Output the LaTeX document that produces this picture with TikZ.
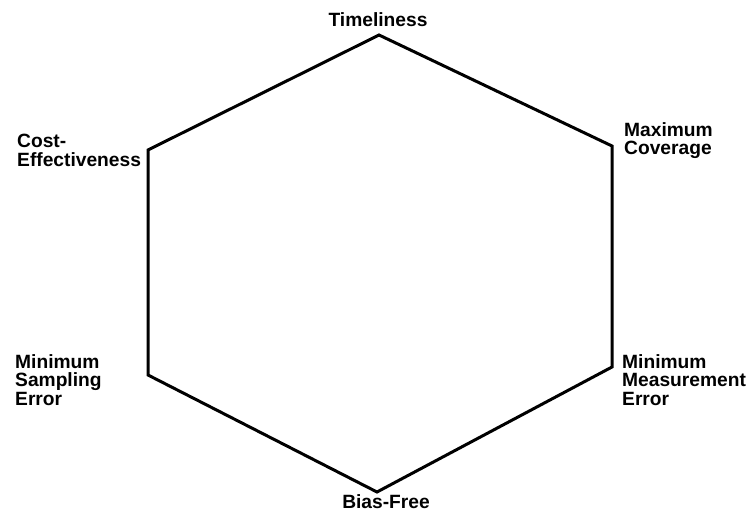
\documentclass[tikz,border=0pt]{standalone}
\usepackage{fontspec}
\setmainfont{Liberation Sans}
\begin{document}
\begin{tikzpicture}[x=1pt,y=-1pt,
  lbl/.style={inner sep=0pt,align=left,font=\bfseries\fontsize{19.2}{18.5}\selectfont},
  edge/.style={line width=3pt,line join=miter}]
\useasboundingbox (0,0) rectangle (755,518);
\coordinate (T) at (379,35);
\coordinate (UR) at (612,146);
\coordinate (LR) at (612,367);
\coordinate (B) at (377,492);
\coordinate (LL) at (148,375);
\coordinate (UL) at (148,150);
\draw[edge] (T) -- (UR) -- (LR) -- (B) -- (LL) -- (UL) -- cycle;
\node[lbl,anchor=north] (tl) at (378,12) {Timeliness};
\node[lbl,anchor=north west] (ce) at (17,134) {Cost-\\Effectiveness};
\node[lbl,anchor=north west] (mc) at (624,122) {Maximum\\Coverage};
\node[lbl,anchor=north west] (ms) at (15,354) {Minimum\\Sampling\\Error};
\node[lbl,anchor=north west] (mm) at (622,354) {Minimum\\Measurement\\Error};
\node[lbl,anchor=north] (bf) at (386,494) {Bias-Free};
\end{tikzpicture}
\end{document}
